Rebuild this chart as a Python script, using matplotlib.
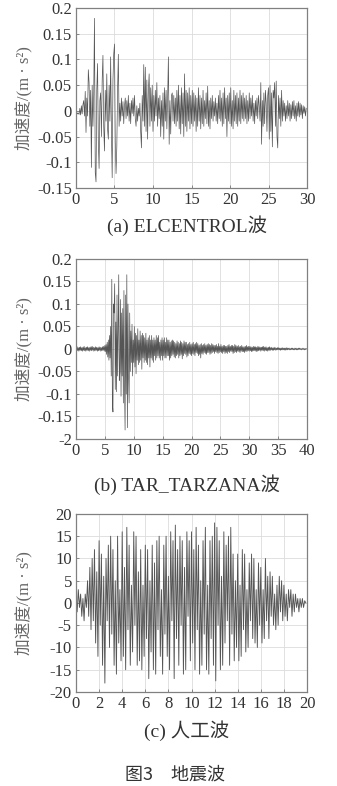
"""Three ground-motion records (Fig. 3): ELCENTROL, TAR_TARZANA, artificial."""
import matplotlib

matplotlib.use("Agg")

import matplotlib.pyplot as plt  # noqa: E402
import numpy as np  # noqa: E402

# ELCENTROL wave, 0.1 s step, values in 0.001 m/s^2
elcentro_dt = 0.1
elcentro_acc = [
    -5, -3, -6, -4, -7, 5, -8, 10, -6, 12,
    20, -10, 38, -42, 25, -10, 80, 55, -30, 40,
    -110, 50, -30, 30, 180, -120, -138, 40, 92, -60,
    -112, 20, 35, -50, 60, 108, -30, -78, 40, -20,
    72, -35, -55, 50, -20, 105, -40, -130, 60, 110,
    130, -60, -122, -70, 40, 110, -30, 15, -20, 25,
    -10, 18, -25, 10, 25, -15, 20, -10, 30, -20,
    15, -25, 20, -5, 25, -10, 30, -15, -30, 10,
    -20, 5, -10, 15, -40, -72, 30, -20, 90, -30,
    85, -40, 60, -55, 40, 72, -30, 45, -20, 50,
    -40, 30, -20, 40, -10, 55, -30, 25, -15, 30,
    -50, 20, -30, 35, -55, 45, -20, 40, -35, 25,
    105, -65, 20, -45, 30, 35, -20, 30, -25, 25,
    -30, 40, -20, 50, -35, 30, -45, 45, -25, 35,
    -50, 72, -30, 40, -40, 35, -20, 45, -35, 30,
    -25, 40, -30, 35, -20, 30, -40, 25, -30, 45,
    -20, 30, -35, 25, -25, 40, -30, 20, -15, 35,
    -25, 48, -30, 20, -35, 25, -15, 30, -20, 18,
    -10, 25, -20, 15, -25, 30, -15, 40, -20, 25,
    -30, 35, -25, 45, -15, 25, -50, 30, -20, 35,
    -25, 45, -30, 20, -35, 40, -20, 30, -25, 35,
    -30, 25, -20, 40, -25, 30, -15, 35, -20, 25,
    -15, 30, -25, 20, -20, 35, -15, 25, -10, 30,
    -20, 15, -25, 20, -10, 25, -15, 30, 10, -20,
    55, -65, 20, -30, 35, -25, 40, 15, -40, 30,
    45, -55, 50, -40, 35, -70, 40, 25, 55, -30,
    58, -50, -72, 30, -15, 25, -30, 40, -20, 20,
    -10, 15, -20, 10, -15, 20, -10, 15, -20, 12,
    -15, 18, -10, 20, -15, 10, -20, 15, -10, 18,
    -12, 15, -8, 12, -15, 10, -5, 8, -10, 5,
]

# TAR_TARZANA wave, 0.1 s step, values in 0.001 m/s^2
tarzana_dt = 0.1
tarzana_acc = [
    4, -3, 5, -4, 3, -5, 4, -3, 5, -4,
    3, -5, 4, -3, 6, -4, 3, -5, 4, -3,
    5, -4, 3, -5, 4, -3, 5, -4, 6, -3,
    4, -5, 3, -4, 5, -3, 4, -5, 3, -4,
    5, -3, 4, -5, 3, -4, 5, -3, 6, -5,
    8, -6, 10, -12, 15, -18, 20, -25, 30, -20,
    50, -60, 155, -120, -140, 100, 80, 145, -90, 60,
    -95, 120, -60, 40, 165, -70, -50, 110, -105, 80,
    -60, 90, -120, 130, -80, -180, 120, -100, 165, -175,
    100, -60, -120, 80, -50, 40, -30, 55, -60, 20,
    -30, 50, -40, 35, -55, 30, -25, 45, -35, 20,
    -30, 40, -25, 30, -45, 35, -20, 30, -30, 25,
    -25, 35, -30, 20, -35, 25, -20, 30, -40, 20,
    -20, 30, -25, 20, -30, 25, -15, 20, -25, 30,
    -20, 25, -15, 30, -20, 15, -25, 20, -15, 25,
    -25, 20, -15, 25, -20, 15, -20, 25, -15, 20,
    -15, 20, -25, 15, -20, 18, -15, 20, -12, 18,
    -18, 15, -20, 12, -15, 18, -12, 15, -20, 12,
    -15, 18, -12, 15, -22, 12, -15, 18, -10, 15,
    -12, 15, -18, 10, -15, 12, -10, 15, -12, 10,
    -15, 12, -10, 15, -12, 10, -15, 12, -8, 15,
    -10, 12, -15, 8, -12, 10, -20, 12, -10, 8,
    -12, 10, -8, 12, -10, 8, -12, 10, -8, 12,
    -8, 10, -12, 8, -10, 12, -8, 10, -6, 8,
    -10, 8, -6, 10, -8, 6, -10, 12, -8, 6,
    -6, 10, -8, 6, -10, 8, -6, 8, -10, 6,
    -8, 6, -10, 8, -6, 10, -8, 6, -5, 8,
    -6, 8, -10, 6, -8, 10, -6, 8, -8, 6,
    -5, 8, -6, 5, -8, 6, -5, 8, -6, 5,
    -6, 5, -8, 6, -5, 8, -6, 5, -4, 6,
    -5, 6, -4, 5, -6, 4, -5, 6, -4, 5,
    -4, 5, -6, 4, -5, 6, -4, 5, -3, 4,
    -5, 4, -3, 5, -4, 6, -5, 4, -3, 5,
    -4, 3, -5, 4, -3, 5, -4, 3, -2, 4,
    -3, 2, -3, 4, -2, 3, -3, 2, -2, 3,
    -2, 3, -2, 2, -3, 2, -2, 3, -2, 2,
    -2, 2, -3, 2, -2, 3, -2, 2, -1, 2,
    -2, 1, -2, 2, -1, 2, -2, 1, -2, 2,
    -1, 2, -2, 1, -2, 2, -1, 2, -1, 1,
    -2, 1, -1, 2, -1, 1, -2, 1, -1, 1,
]

# artificial wave, 0.1 s step, values as plotted
artificial_dt = 0.1
artificial_acc = [
    1, -2, 3, -1, 2, -3, 1, -4, 2, -1,
    5, -3, 8, -6, 10, -4, 12, -9, 7, -12,
    14, -5, 11, -14, 6, -18, 10, -4, 13, -10,
    15, -7, 12, -14, 5, -16, 15, -9, 3, -13,
    16, -12, 8, -15, 17, -6, 13, -14, 4, -11,
    16, -5, 15, -14, 7, -13, 12, -15, 4, -12,
    13, -8, 12, -17, 5, -11, 13, -15, 9, -16,
    14, -6, 15, -12, 3, -16, 13, -7, 15, -12,
    6, -15, 16, -4, 14, -17, 17.5, -8, 12, -14,
    15, -5, 14, -16, 8, -15, 16, -3, 14, -13,
    16, -9, 12, -15, 17, -6, 13, -16, 5, -14,
    14, -7, 17, -15, 4, -16, 14, -8, 15, -14,
    18, -17.5, 17, -5, 14, -15, 6, -14, 16, -9,
    13, -4, 15, -14, 17, -7, 11, -13, 5, -10,
    11, -13, 4, -12, 12, -6, 11, -11, 3, -10,
    9, -4, 11, -8, 10, -9, 3, -10, 9, -5,
    8, -9, 3, -8, 10, -4, 6, -8, 7, -3,
    6, -5, 2, -6, 4, -5, 6, -2, 5, -4,
    4, -3, 2, -4, 3, -1, 3, -3, 2, -2,
    2, -1, 1, -2, 1, -1, 1, -1, 0.5, 0,
]

titles = ["(a) ELCENTROL波", "(b) TAR_TARZANA波", "(c) 人工波"]
ylabel = "加速度/(m · s²)"
caption = "图3\u3000地震波"

a_yticks = [-0.15, -0.1, -0.05, 0, 0.05, 0.1, 0.15, 0.2]
a_ylabels = ["-0.15", "-0.1", "-0.05", "0", "0.05", "0.1", "0.15", "0.2"]
b_yticks = [-0.2, -0.15, -0.1, -0.05, 0, 0.05, 0.1, 0.15, 0.2]
b_ylabels = ["-2", "-0.15", "-0.1", "-0.05", "0", "0.05", "0.1", "0.15", "0.2"]
c_yticks = [-20, -15, -10, -5, 0, 5, 10, 15, 20]
c_ylabels = ["-20", "-15", "-10", "-5", "0", "5", "10", "15", "20"]

SERIF = ["Liberation Serif", "Noto Sans CJK SC"]
LINE = "#555555"


def draw_panel(ax, t, acc, xlim, xstep, yticks, ylabels, lw=0.5):
    ax.plot(t, acc, color=LINE, linewidth=lw)
    ax.set_xlim(*xlim)
    ax.set_ylim(yticks[0], yticks[-1])
    ax.set_xticks(np.arange(xlim[0], xlim[1] + 0.001, xstep))
    ax.set_yticks(yticks)
    ax.set_yticklabels(ylabels)
    ax.grid(True, color="#dcdcdc", linewidth=0.6)
    ax.set_axisbelow(True)
    ax.tick_params(direction="in", length=2, width=0.6, colors="#777777",
                   labelcolor="#333333", labelsize=12, pad=3)
    for lbl in ax.get_xticklabels() + ax.get_yticklabels():
        lbl.set_family(SERIF)
    for sp in ax.spines.values():
        sp.set_color("#808080")
        sp.set_linewidth(0.9)
    ax.set_ylabel(ylabel, family=SERIF, fontsize=12, color="#666666")


fig = plt.figure(figsize=(3.37, 7.86), dpi=100)

ax_a = fig.add_axes([0.2255, 0.7608, 0.6855, 0.229])
ax_b = fig.add_axes([0.2255, 0.4415, 0.6855, 0.229])
ax_c = fig.add_axes([0.2255, 0.1196, 0.6855, 0.2265])

t_a = np.arange(len(elcentro_acc)) * elcentro_dt
t_b = np.arange(len(tarzana_acc)) * tarzana_dt
t_c = np.arange(len(artificial_acc)) * artificial_dt

draw_panel(ax_a, t_a, np.array(elcentro_acc) / 1000.0, (0, 30), 5,
           a_yticks, a_ylabels)
draw_panel(ax_b, t_b, np.array(tarzana_acc) / 1000.0, (0, 40), 5,
           b_yticks, b_ylabels)
draw_panel(ax_c, t_c, artificial_acc, (0, 20), 2, c_yticks, c_ylabels,
           lw=0.65)

for ax in (ax_a, ax_b, ax_c):
    ax.yaxis.set_label_coords(-0.19, 0.5)

for y, title in zip([0.7125, 0.383, 0.07], titles):
    fig.text(0.555, y, title, ha="center", va="center", family=SERIF,
             fontsize=14, color="#333333")

fig.text(0.52, 0.014, caption, ha="center", va="center",
         family=["Noto Sans CJK SC", "DejaVu Sans"], fontsize=13,
         color="#333333")

fig.savefig("out.png", dpi=100)
plt.close(fig)
